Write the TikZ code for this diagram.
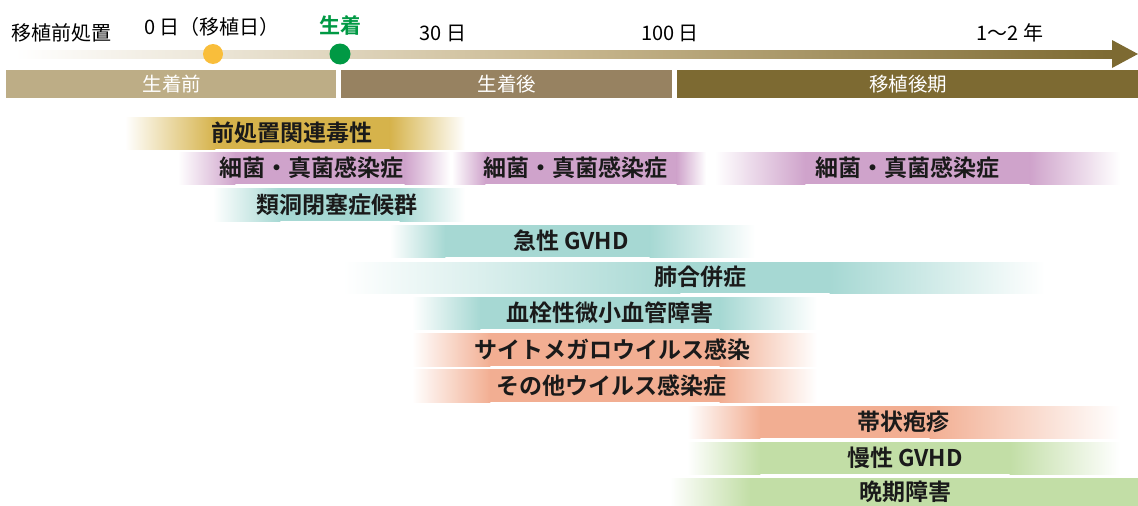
\documentclass[tikz,border=0pt]{standalone}
\usepackage{fontspec}
\newfontfamily\jp{Noto Sans CJK JP}
\newfontfamily\jpb{Noto Sans CJK JP Bold}
\definecolor{axmid}{HTML}{C9B890}
\definecolor{axdark}{HTML}{7D6A32}
\definecolor{ph1}{HTML}{BDAD86}
\definecolor{ph2}{HTML}{978261}
\definecolor{ph3}{HTML}{7D6A32}
\definecolor{cgold}{HTML}{D6B34B}
\definecolor{cpink}{HTML}{CFA3CB}
\definecolor{cteal}{HTML}{A6D8D3}
\definecolor{csalm}{HTML}{F2AE92}
\definecolor{cgreen}{HTML}{C2DEA6}
\definecolor{cyel}{HTML}{F9BE3B}
\definecolor{cgrn}{HTML}{009944}
\definecolor{txt}{HTML}{1A1A1A}
\newcommand\fadebar[7]{%
  \shade[left color=white,right color=#7] (#1,#5) rectangle (#2+0.4,#6);
  \fill[#7] (#2,#5) rectangle (#3,#6);
  \shade[left color=#7,right color=white] (#3-0.4,#5) rectangle (#4,#6);}
\tikzset{
  barlabel/.style={font=\jpb\fontsize{23}{26}\selectfont, text=txt, inner sep=0pt},
  axislabel/.style={font=\jp\fontsize{20}{23}\selectfont, text=black, inner sep=0pt},
  phaselabel/.style={font=\jp\fontsize{19.5}{22}\selectfont, text=white, inner sep=0pt},
}
\begin{document}
\begin{tikzpicture}[x=1pt,y=-1pt]
\useasboundingbox (0,0) rectangle (1138,506);
% axis
\shade[left color=white,right color=axmid] (15,50) rectangle (560.4,58);
\shade[left color=axmid,right color=axdark] (560,50) rectangle (1113,58);
\fill[axdark] (1112,40) -- (1138,54) -- (1112,68) -- cycle;
\fill[cyel] (213,54) circle (10);
\fill[cgrn] (340,54) circle (10.5);
% axis labels
\node[axislabel] (pre) at (62,33) {移植前処置};
\node[axislabel] (d0) at (212,27) {0 日（移植日）};
\node[font=\jpb\fontsize{21}{24}\selectfont, text=cgrn, inner sep=0pt] (eng) at (340,25) {生着};
\node[axislabel] (d30) at (443,33) {30 日};
\node[axislabel] (d100) at (670,33) {100 日};
\node[axislabel] (y12) at (1010,33) {1〜2 年};
% phases
\fill[ph1] (6,70) rectangle (336,98);
\fill[ph2] (341,70) rectangle (672,98);
\fill[ph3] (677,70) rectangle (1138,98);
\node[phaselabel] (p1) at (172,84) {生着前};
\node[phaselabel] (p2) at (507,84) {生着後};
\node[phaselabel] (p3) at (908,84) {移植後期};
% bars
\fadebar{125}{215}{390}{465}{117}{149}{cgold}
\fadebar{178}{235}{405}{450}{152}{184}{cpink}
\fadebar{452}{485}{677}{706}{152}{184}{cpink}
\fadebar{715}{805}{1030}{1120}{152}{184}{cpink}
\fadebar{213}{280}{400}{465}{188}{221}{cteal}
\fadebar{390}{445}{650}{755}{225}{257}{cteal}
\fadebar{343}{680}{830}{1045}{262}{293}{cteal}
\fadebar{412}{480}{720}{817}{297}{329}{cteal}
\fadebar{412}{490}{720}{817}{333}{366}{csalm}
\fadebar{412}{490}{720}{817}{369}{402}{csalm}
\fadebar{687}{760}{930}{1120}{406}{438}{csalm}
\fadebar{687}{760}{1010}{1120}{442}{474}{cgreen}
\fadebar{670}{750}{1137}{1138}{478}{506}{cgreen}
\fill[cgreen] (1100,478) rectangle (1138,506);
% bar labels
\node[barlabel] (b1) at (292,133) {前処置関連毒性};
\node[barlabel] (b2a) at (311,168) {細菌・真菌感染症};
\node[barlabel] (b2b) at (575,168) {細菌・真菌感染症};
\node[barlabel] (b2c) at (907,168) {細菌・真菌感染症};
\node[barlabel] (b3) at (337,205) {類洞閉塞症候群};
\node[barlabel] (b4) at (571,241) {急性 GVHD};
\node[barlabel] (b5) at (700,277) {肺合併症};
\node[barlabel] (b6) at (610,313) {血栓性微小血管障害};
\node[barlabel] (b7) at (612,350) {サイトメガロウイルス感染};
\node[barlabel] (b8) at (611,386) {その他ウイルス感染症};
\node[barlabel] (b9) at (903,422) {帯状疱疹};
\node[barlabel] (b10) at (905,458) {慢性 GVHD};
\node[barlabel] (b11) at (905,492) {晩期障害};
\end{tikzpicture}
\end{document}
